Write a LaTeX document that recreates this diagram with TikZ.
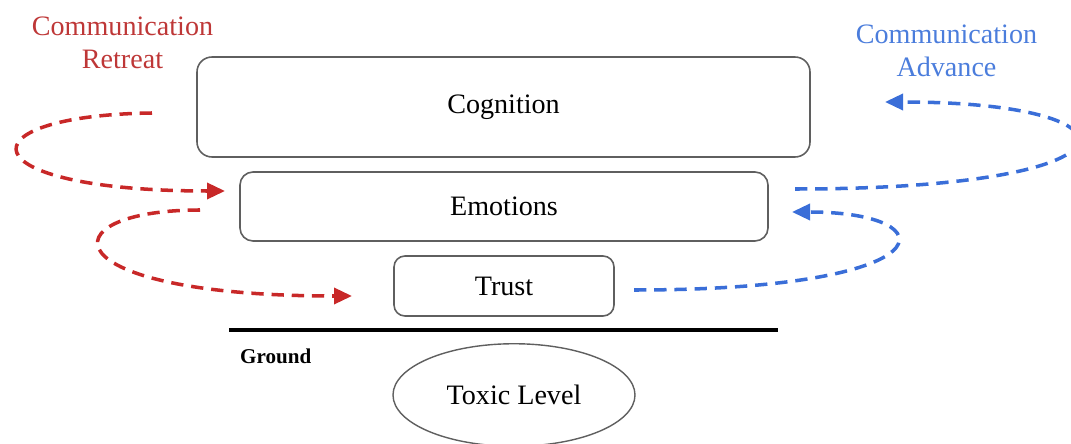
\documentclass[tikz,border=0pt]{standalone}
\usepackage{fontspec}
\setmainfont{Liberation Serif}
\usepackage{tikz}
\usetikzlibrary{arrows.meta, shapes.geometric}

\definecolor{retreatred}{RGB}{200,40,40}
\definecolor{retreattext}{RGB}{190,55,55}
\definecolor{advanceblue}{RGB}{58,110,216}
\definecolor{advancetext}{RGB}{75,125,220}
\definecolor{boxgray}{RGB}{95,95,95}

\tikzset{
  layer/.style={draw=boxgray, line width=0.9pt, rounded corners=#1, inner sep=0pt},
  layer/.default=0.28cm,
  flow/.style={line width=2pt, dash pattern=on 7pt off 4.5pt,
    -{Triangle[length=3.6mm, width=3.2mm]}},
}

\begin{document}
\begin{tikzpicture}[font=\fontsize{16}{19}\selectfont]
\useasboundingbox (0,0) rectangle (21.42,8.86);

% layers
\node[layer=0.3cm, minimum width=12.26cm, minimum height=2.0cm] (cognition) at (10.07,6.72) {Cognition};
\node[layer=0.26cm, minimum width=10.56cm, minimum height=1.38cm] (emotions) at (10.08,4.73) {Emotions};
\node[layer=0.22cm, minimum width=4.4cm, minimum height=1.2cm] (trust) at (10.08,3.14) {Trust};

% ground
\coordinate (gleft) at (4.58,2.26);
\coordinate (gright) at (15.56,2.26);
\draw[line width=2pt] (gleft) -- (gright);
\node[anchor=west, font=\fontsize{12}{14}\selectfont\bfseries] (ground) at (4.68,1.74) {Ground};
\node[ellipse, draw=boxgray, line width=0.8pt, minimum width=4.84cm, minimum height=2.05cm, inner sep=0pt] (toxic) at (10.28,0.96) {Toxic Level};

% labels
\node[align=center, text=retreattext] (retreat) at (2.45,8.0) {Communication\\Retreat};
\node[align=center, text=advancetext] (advance) at (18.93,7.84) {Communication\\Advance};

% retreat arrows
\coordinate (r1a) at (3.04,6.6);
\coordinate (r1b) at (4.5,5.04);
\coordinate (r2a) at (4.0,4.66);
\coordinate (r2b) at (7.04,2.94);
\draw[flow, retreatred] (r1a) .. controls (-0.8,6.55) and (-0.7,5.04) .. (r1b);
\draw[flow, retreatred] (r2a) .. controls (0.9,4.66) and (0.95,2.94) .. (r2b);

% advance arrows
\coordinate (a1a) at (15.9,5.08);
\coordinate (a1b) at (17.7,6.82);
\coordinate (a2a) at (12.68,3.06);
\coordinate (a2b) at (15.84,4.62);
\draw[flow, advanceblue] (a1a) .. controls (23.06,5.08) and (23.06,6.82) .. (a1b);
\draw[flow, advanceblue] (a2a) .. controls (19.0,3.06) and (19.0,4.62) .. (a2b);
\end{tikzpicture}
\end{document}
